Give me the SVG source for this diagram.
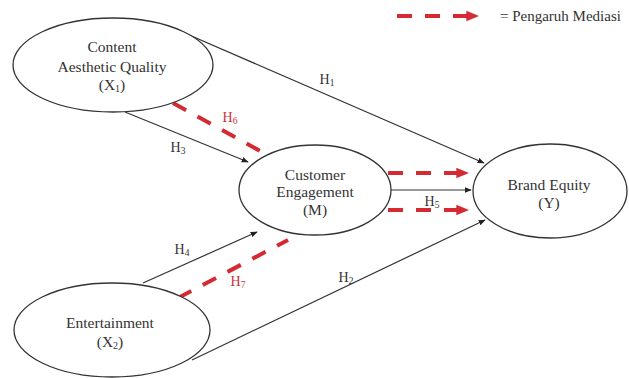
<svg xmlns="http://www.w3.org/2000/svg" width="629" height="378" viewBox="0 0 629 378">
<style>
.node ellipse{fill:#fff;stroke:#333;stroke-width:1.3}
text{font-family:"Liberation Serif","Times New Roman",serif;fill:#333}
.nt{font-size:15.5px;text-anchor:middle}
.lbl{font-size:14px;text-anchor:middle}
.red{fill:#c8323a}
.sub{font-size:9.5px}
.solid{stroke:#333;stroke-width:1.2;fill:none}
.dash{stroke:#d42a32;stroke-width:4;stroke-dasharray:15 13;fill:none}
</style>
<defs>
<marker id="ab" viewBox="0 0 10 10" refX="9" refY="5" markerWidth="7" markerHeight="7" markerUnits="userSpaceOnUse" orient="auto">
<path d="M0,1 L10,5 L0,9 z" fill="#222"/>
</marker>
<marker id="ar" viewBox="0 0 10 10" refX="9" refY="5" markerWidth="13" markerHeight="13" markerUnits="userSpaceOnUse" orient="auto">
<path d="M0,1 L10,5 L0,9 z" fill="#d42a32"/>
</marker>
</defs>
<rect width="629" height="378" fill="#fff"/>
<g id="connectors">
<line class="solid" x1="180" y1="31" x2="484" y2="163" marker-end="url(#ab)"/>
<line class="solid" x1="125" y1="112" x2="248" y2="162" marker-end="url(#ab)"/>
<line class="solid" x1="143" y1="283" x2="257" y2="232" marker-end="url(#ab)"/>
<line class="solid" x1="192" y1="360" x2="485" y2="220" marker-end="url(#ab)"/>
<line class="solid" x1="391" y1="190" x2="471" y2="190" marker-end="url(#ab)"/>
<line class="dash" x1="173" y1="103" x2="262" y2="152"/>
<line class="dash" x1="178" y1="298" x2="288" y2="240"/>
<line class="dash" x1="388" y1="173" x2="468" y2="173" marker-end="url(#ar)"/>
<line class="dash" x1="388" y1="210" x2="468" y2="210" marker-end="url(#ar)"/>
<text class="lbl" x="327" y="84">H<tspan class="sub" dy="2">1</tspan></text>
<text class="lbl" x="178" y="152">H<tspan class="sub" dy="2">3</tspan></text>
<text class="lbl red" x="230" y="122">H<tspan class="sub" dy="2">6</tspan></text>
<text class="lbl" x="182" y="254">H<tspan class="sub" dy="2">4</tspan></text>
<text class="lbl red" x="238" y="286">H<tspan class="sub" dy="2">7</tspan></text>
<text class="lbl" x="346" y="282">H<tspan class="sub" dy="2">2</tspan></text>
<text class="lbl" x="432" y="206">H<tspan class="sub" dy="2">5</tspan></text>
</g>
<g id="node-x1" class="node">
<ellipse cx="113" cy="65" rx="100" ry="47"/>
<text class="nt" x="112" y="52">Content</text>
<text class="nt" x="112" y="72">Aesthetic Quality</text>
<text class="nt" x="112" y="90">(X<tspan font-size="10" dy="2">1</tspan><tspan dy="-2">)</tspan></text>
</g>
<g id="node-m" class="node">
<ellipse cx="315" cy="190" rx="76" ry="45"/>
<text class="nt" x="315" y="180">Customer</text>
<text class="nt" x="315" y="197">Engagement</text>
<text class="nt" x="315" y="215">(M)</text>
</g>
<g id="node-y" class="node">
<ellipse cx="550" cy="191" rx="77" ry="47"/>
<text class="nt" x="549" y="190">Brand Equity</text>
<text class="nt" x="549" y="208">(Y)</text>
</g>
<g id="node-x2" class="node">
<ellipse cx="112" cy="330" rx="98" ry="47"/>
<text class="nt" x="110" y="328">Entertainment</text>
<text class="nt" x="110" y="347">(X<tspan font-size="10" dy="2">2</tspan><tspan dy="-2">)</tspan></text>
</g>
<g id="legend">
<line class="dash" x1="397" y1="16" x2="478" y2="16" marker-end="url(#ar)"/>
<text x="500" y="21" font-size="15">= Pengaruh Mediasi</text>
</g>
</svg>
